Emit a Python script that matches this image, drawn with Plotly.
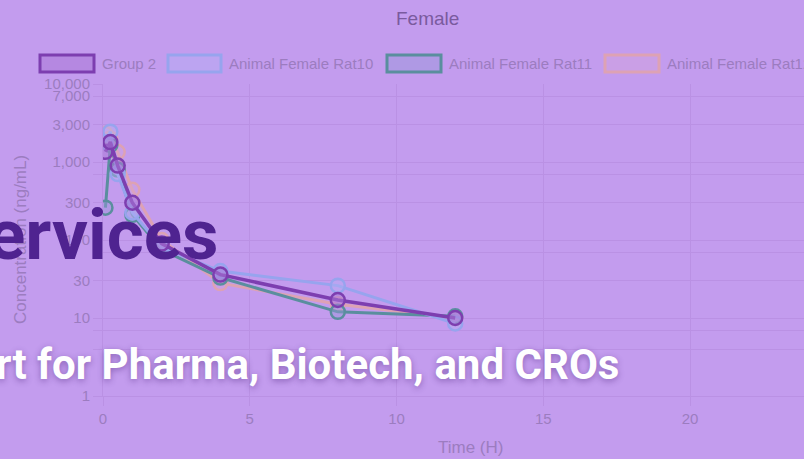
import plotly.graph_objects as go

# ---- data ----
times = [0.083, 0.25, 0.5, 1, 2, 4, 8, 12]
series_names = ["Group 2", "Animal Female Rat10", "Animal Female Rat11", "Animal Female Rat12"]
group2 = [1350, 1800, 900, 300, 90, 36, 17, 10]
rat10 = [1800, 2450, 700, 225, 80, 40, 26, 8.5]
rat11 = [260, 1650, 800, 210, 75, 33, 12, 10.5]
rat12 = [2300, 2000, 1340, 440, 100, 28, 15, 10]
y_tickvals = [1, 4, 7, 10, 30, 70, 100, 300, 700, 1000, 3000, 7000, 10000]
y_ticktext = ["1", "", "", "10", "30", "", "100", "300", "", "1,000", "3,000", "7,000", "10,000"]
x_tickvals = [0, 5, 10, 15, 20]

# ---- style ----
BG = "#C39CEE"
GRID = "#BA91E4"
TICK = "#9C7CC0"
TITLE = "#7A5A9E"
line_colors = ["#7D3EB0", "#97A4EE", "#5A8E9E", "#DDA2B4"]
fill_colors = ["rgba(170,120,215,0.55)", "rgba(180,175,245,0.45)", "rgba(150,150,215,0.45)",
               "rgba(215,165,215,0.35)"]
line_widths = [3.5, 3, 3, 3]

L, R, T, B = 103, 804, 84, 396
W, H = 804, 459

def px2x(px):
    return (px - L) / (R - L)

def py2y(py):
    return (B - py) / (B - T)

fig = go.Figure()
all_series = [group2, rat10, rat11, rat12]
order = [3, 2, 1, 0]
for i in order:
    fig.add_trace(go.Scatter(
        x=times, y=all_series[i], name=series_names[i], mode="lines+markers",
        line=dict(color=line_colors[i], width=line_widths[i]),
        marker=dict(size=14, color=fill_colors[i], line=dict(color=line_colors[i], width=2.5)),
        showlegend=False,
    ))

font_family = "Liberation Sans, Arial, sans-serif"

# manual legend (clipped at right edge like the original)
legend_boxes = [(40, 94), (168, 221), (387, 441), (605, 659)]
shapes = []
annotations = []
for i, (x0, x1) in enumerate(legend_boxes):
    shapes.append(dict(type="rect", xref="paper", yref="paper",
                       x0=px2x(x0), x1=px2x(x1), y0=py2y(72), y1=py2y(55),
                       line=dict(color=line_colors[i], width=3), fillcolor=fill_colors[i], layer="above"))
    annotations.append(dict(text=series_names[i], xref="paper", yref="paper",
                            x=px2x(x1 + 6), y=py2y(63.5), xanchor="left", yanchor="middle",
                            showarrow=False, font=dict(family=font_family, size=15, color=TICK)))

annotations.append(dict(text="Female", xref="paper", yref="paper", x=px2x(427), y=py2y(18),
                        xanchor="center", yanchor="middle", showarrow=False,
                        font=dict(family=font_family, size=19, color=TITLE)))
annotations.append(dict(text="Time (H)", xref="paper", yref="paper", x=px2x(470), y=py2y(447),
                        xanchor="center", yanchor="middle", showarrow=False,
                        font=dict(family=font_family, size=17, color=TICK)))
annotations.append(dict(text="Concentration (ng/mL)", xref="paper", yref="paper", x=px2x(20), y=py2y(240),
                        xanchor="center", yanchor="middle", showarrow=False, textangle=-90,
                        font=dict(family=font_family, size=17, color=TICK)))

# hero text over the chart
annotations.append(dict(text="ervices", xref="paper", yref="paper", x=px2x(220), y=py2y(234),
                        xanchor="right", yanchor="middle", showarrow=False, borderpad=0,
                        font=dict(family="Roboto", size=71, color="#4F2390", weight=700)))
annotations.append(dict(text="rt for Pharma, Biotech, and CROs", xref="paper", yref="paper",
                        x=px2x(620), y=py2y(364), xanchor="right", yanchor="middle",
                        showarrow=False, borderpad=0,
                        font=dict(family="Roboto", size=42, color="#FFFFFF", weight=700,
                                  shadow="0px 2px 6px rgba(70,30,120,0.45)")))

fig.update_layout(
    width=W, height=H,
    margin=dict(l=L, r=W - R, t=T, b=H - B),
    paper_bgcolor=BG, plot_bgcolor=BG,
    shapes=shapes, annotations=annotations,
    showlegend=False,
    font=dict(family=font_family, size=15, color=TICK),
)
fig.update_xaxes(range=[0, (R - L) / 29.35], tickvals=x_tickvals, showgrid=True, gridcolor=GRID,
                 gridwidth=1, zeroline=False, showline=True, linecolor=GRID, ticks="outside",
                 ticklen=9, tickcolor=GRID, tickfont=dict(size=15, color=TICK))
fig.update_yaxes(type="log", range=[0, 4], tickvals=y_tickvals, ticktext=y_ticktext, showgrid=True,
                 gridcolor=GRID, gridwidth=1, zeroline=False, showline=True, linecolor=GRID,
                 ticks="outside", ticklen=9, tickcolor=GRID, tickfont=dict(size=15, color=TICK))

fig.write_html("out.html", config={"displayModeBar": False},
               post_script="document.body.style.margin='0px';document.body.style.overflow='hidden';")
